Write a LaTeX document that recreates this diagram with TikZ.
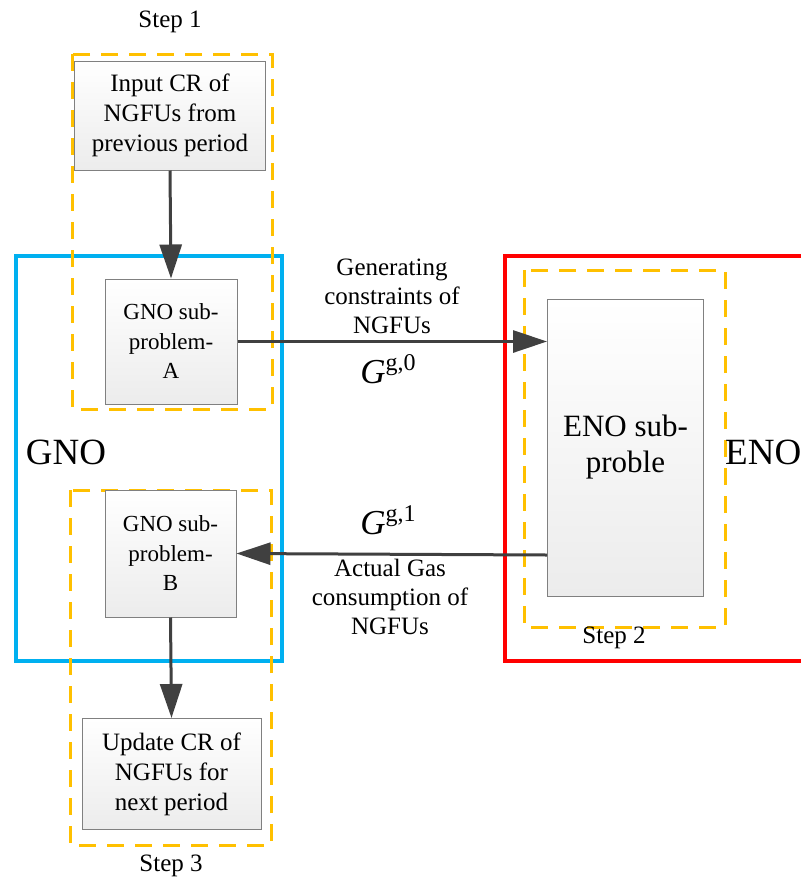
\documentclass[tikz,border=0pt]{standalone}
\usepackage{fontspec}
\setmainfont{Liberation Serif}
\usetikzlibrary{arrows.meta}
\definecolor{stepor}{RGB}{255,192,0}
\definecolor{gnoblue}{RGB}{0,176,240}
\definecolor{enored}{RGB}{255,0,0}
\definecolor{arrowgray}{RGB}{64,64,64}
\tikzset{
  procbox/.style={draw={rgb,255:red,128;green,128;blue,128}, line width=1pt, top color=white, bottom color={rgb,255:red,236;green,236;blue,236}, align=center, inner sep=0pt, font=\fontsize{23}{29.5}\selectfont},
  widebox/.style={procbox, font=\fontsize{25}{30}\selectfont},
  stepframe/.style={draw=stepor, line width=3pt, dash pattern=on 17pt off 11pt},
  flowarrow/.style={draw=arrowgray, line width=3pt, -{Triangle[length=34pt,width=22pt]}},
  lbl/.style={align=center, font=\fontsize{25}{29}\selectfont},
  biglbl/.style={font=\fontsize{37}{40}\selectfont, inner sep=0pt},
  glbl/.style={inner sep=0pt}
}
\newcommand{\gsym}[1]{{\fontsize{35}{40}\selectfont\itshape G}\raisebox{13pt}{\fontsize{24}{24}\selectfont g,#1}}
\begin{document}
\begin{tikzpicture}[x=1pt,y=-1pt]
\clip (0,0) rectangle (801,887);
\fill[white] (0,0) rectangle (801,887);
% outer frames
\draw[gnoblue, line width=4pt] (16,256) rectangle (282,661);
\draw[enored, line width=4pt] (505,256) rectangle (830,661);
% step frames
\draw[stepframe] (72,54) rectangle (272,409);
\draw[stepframe] (524,270) rectangle (725,627);
\draw[stepframe] (70,490) rectangle (271,845);
% process boxes
\node[widebox, minimum width=191pt, minimum height=109pt] (input) at (170,115.5) {Input CR of\\NGFUs from\\previous period};
\node[procbox, minimum width=132pt, minimum height=125pt] (gA) at (171,341.5) {GNO sub-\\problem-\\A};
\node[procbox, minimum width=131pt, minimum height=127pt] (gB) at (170.5,553.5) {GNO sub-\\problem-\\B};
\node[widebox, minimum width=179pt, minimum height=111pt] (update) at (171.5,774) {Update CR of\\NGFUs for\\next period};
\node[procbox, minimum width=156pt, minimum height=297pt, font=\fontsize{31}{36}\selectfont] (eno) at (625.5,447.5) {ENO sub-\\proble};
% labels
\node[lbl] (step1) at (170,22) {Step 1};
\node[lbl] (step2) at (614,638) {Step 2};
\node[lbl] (step3) at (171,866) {Step 3};
\node[biglbl] (gno) at (66,452) {GNO};
\node[biglbl, anchor=west] (enolbl) at (725,452) {ENO};
\node[lbl] (gen) at (392,296) {Generating\\constraints of\\NGFUs};
\node[glbl] (g0) at (388,369) {\gsym{0}};
\node[glbl] (g1) at (388,520) {\gsym{1}};
\node[lbl] (act) at (390,597) {Actual Gas\\consumption of\\NGFUs};
% connectors
\coordinate (enoIn) at (eno.west |- gA.east);
\coordinate (enoOut) at ([yshift=-1.5pt]eno.west |- gB.east);
\draw[flowarrow] (input.south) -- (gA.north);
\draw[flowarrow] (gA.east) -- (enoIn);
\draw[flowarrow] (enoOut) -- (gB.east);
\draw[flowarrow] (gB.south) -- (update.north);
\end{tikzpicture}
\end{document}
